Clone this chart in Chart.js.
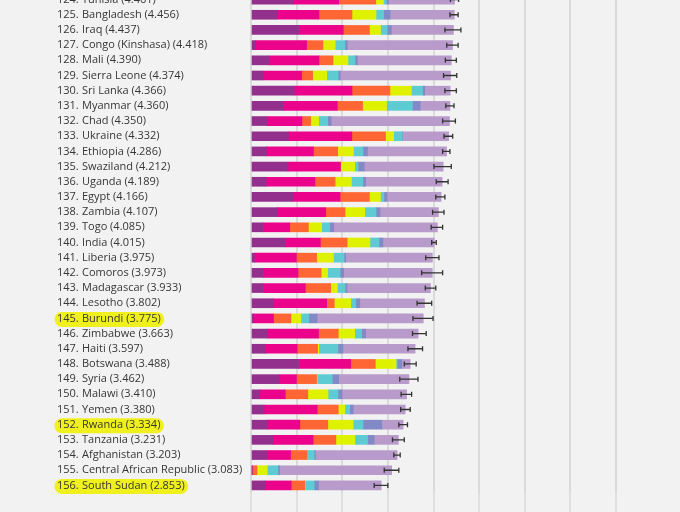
<!DOCTYPE html>
<html>
<head>
<meta charset="utf-8">
<script src="https://cdn.jsdelivr.net/npm/chart.js@4"></script>
<style>
  html, body { margin: 0; padding: 0; background: #f1f2f1; }
  #frame { position: relative; width: 680px; height: 512px; overflow: hidden; }
  #holder { position: absolute; left: 0; top: -8px; width: 680px; height: 520px; }
</style>
</head>
<body>
<div id="frame"><div id="holder"><canvas id="chart"></canvas></div></div>
<script>
const ranks = [124, 125, 126, 127, 128, 129, 130, 131, 132, 133, 134, 135, 136, 137, 138, 139, 140,
  141, 142, 143, 144, 145, 146, 147, 148, 149, 150, 151, 152, 153, 154, 155, 156];
const countries = ["Tunisia", "Bangladesh", "Iraq", "Congo (Kinshasa)", "Mali", "Sierra Leone", "Sri Lanka",
  "Myanmar", "Chad", "Ukraine", "Ethiopia", "Swaziland", "Uganda", "Egypt", "Zambia", "Togo", "India",
  "Liberia", "Comoros", "Madagascar", "Lesotho", "Burundi", "Zimbabwe", "Haiti", "Botswana", "Syria",
  "Malawi", "Yemen", "Rwanda", "Tanzania", "Afghanistan", "Central African Republic", "South Sudan"];
const scores = [4.461, 4.456, 4.437, 4.418, 4.390, 4.374, 4.366, 4.360, 4.350, 4.332, 4.286, 4.212, 4.189,
  4.166, 4.107, 4.085, 4.015, 3.975, 3.973, 3.933, 3.802, 3.775, 3.663, 3.597, 3.488, 3.462, 3.410, 3.380,
  3.334, 3.231, 3.203, 3.083, 2.853];
const highlighted = [145, 152, 156];

// explained components
const gdp = [0.921, 0.562, 1.043, 0.094, 0.385, 0.268, 0.949, 0.710, 0.350, 0.820, 0.336, 0.811, 0.332,
  0.913, 0.578, 0.275, 0.755, 0.073, 0.274, 0.274, 0.489, 0.046, 0.366, 0.323, 1.041, 0.619, 0.191, 0.287,
  0.359, 0.476, 0.350, 0.026, 0.306];
const social = [1.000, 0.928, 0.980, 1.125, 1.105, 0.841, 1.265, 1.181, 0.766, 1.390, 1.033, 1.149, 1.069,
  1.039, 1.058, 0.572, 0.765, 0.922, 0.757, 0.916, 1.169, 0.447, 1.114, 0.688, 1.145, 0.378, 0.560, 1.163,
  0.711, 0.885, 0.517, 0.000, 0.575];
const health = [0.815, 0.723, 0.574, 0.357, 0.308, 0.242, 0.831, 0.555, 0.192, 0.739, 0.532, 0.000, 0.443,
  0.644, 0.426, 0.410, 0.588, 0.443, 0.505, 0.555, 0.168, 0.380, 0.433, 0.449, 0.538, 0.440, 0.495, 0.463,
  0.614, 0.499, 0.361, 0.105, 0.295];
const freedom = [0.167, 0.527, 0.241, 0.269, 0.327, 0.309, 0.470, 0.525, 0.174, 0.178, 0.344, 0.313, 0.356,
  0.241, 0.431, 0.293, 0.498, 0.370, 0.142, 0.148, 0.359, 0.220, 0.361, 0.026, 0.455, 0.013, 0.443, 0.143,
  0.555, 0.417, 0.000, 0.225, 0.010];
const generosity = [0.059, 0.166, 0.148, 0.212, 0.153, 0.252, 0.244, 0.566, 0.198, 0.187, 0.209, 0.074,
  0.252, 0.076, 0.247, 0.177, 0.200, 0.233, 0.275, 0.169, 0.107, 0.176, 0.151, 0.419, 0.025, 0.331, 0.218,
  0.108, 0.217, 0.276, 0.158, 0.235, 0.202];
const corruption = [0.055, 0.143, 0.089, 0.053, 0.052, 0.045, 0.047, 0.172, 0.078, 0.010, 0.100, 0.135,
  0.060, 0.067, 0.087, 0.085, 0.085, 0.033, 0.078, 0.041, 0.093, 0.180, 0.089, 0.110, 0.100, 0.141, 0.089,
  0.077, 0.411, 0.147, 0.025, 0.035, 0.091];
const dystopia = [1.444, 1.407, 1.362, 2.308, 2.060, 2.417, 0.560, 0.651, 2.592, 1.008, 1.732, 1.730, 1.677,
  1.186, 1.280, 2.273, 1.124, 1.901, 1.942, 1.830, 1.417, 2.326, 1.149, 1.582, 0.184, 1.540, 1.414, 1.139,
  0.467, 0.531, 1.792, 2.457, 1.374];

// 95% confidence interval ends
const ciLow = [4.37, 4.36, 4.25, 4.29, 4.26, 4.22, 4.25, 4.27, 4.20, 4.23, 4.20, 4.01, 4.06, 4.05, 3.98, 3.95,
  3.96, 3.83, 3.74, 3.82, 3.64, 3.55, 3.54, 3.44, 3.36, 3.26, 3.29, 3.28, 3.24, 3.10, 3.13, 2.92, 2.70];
const ciHigh = [4.55, 4.54, 4.60, 4.54, 4.50, 4.51, 4.50, 4.45, 4.48, 4.42, 4.36, 4.39, 4.32, 4.25, 4.23, 4.20,
  4.06, 4.12, 4.20, 4.05, 3.96, 3.99, 3.84, 3.76, 3.62, 3.66, 3.52, 3.49, 3.43, 3.36, 3.27, 3.24, 3.00];

const components = [
  { label: "GDP per capita", data: gdp, color: "#93308d" },
  { label: "Social support", data: social, color: "#ec038c" },
  { label: "Healthy life expectancy", data: health, color: "#ff6633" },
  { label: "Freedom", data: freedom, color: "#def200" },
  { label: "Generosity", data: generosity, color: "#5ecad2" },
  { label: "Perceptions of corruption", data: corruption, color: "#8189c6" },
  { label: "Dystopia + residual", data: dystopia, color: "#b99bcb" },
];

const rowLabels = {
  id: "rowLabels",
  afterDatasetsDraw(chart) {
    const { ctx } = chart;
    const xScale = chart.scales.x;
    const yScale = chart.scales.y;
    ctx.save();

    // error bars
    ctx.strokeStyle = "#333333";
    ctx.lineWidth = 1.3;
    ranks.forEach((rank, i) => {
      const py = yScale.getPixelForValue(i);
      const x1 = xScale.getPixelForValue(ciLow[i]);
      const x2 = xScale.getPixelForValue(ciHigh[i]);
      ctx.beginPath();
      ctx.moveTo(x1, py);
      ctx.lineTo(x2, py);
      ctx.moveTo(x1, py - 2.5);
      ctx.lineTo(x1, py + 2.5);
      ctx.moveTo(x2, py - 2.5);
      ctx.lineTo(x2, py + 2.5);
      ctx.stroke();
    });

    // country labels
    ctx.font = "11px 'Open Sans'";
    ctx.textBaseline = "middle";
    ctx.textAlign = "left";
    ranks.forEach((rank, i) => {
      const py = yScale.getPixelForValue(i);
      const text = `${countries[i]} (${scores[i].toFixed(3)})`;
      if (highlighted.includes(rank)) {
        const end = 82 + ctx.measureText(text).width;
        ctx.strokeStyle = "#eff01c";
        ctx.lineCap = "round";
        ctx.lineWidth = 15;
        ctx.beginPath();
        ctx.moveTo(62, py + 1);
        ctx.lineTo(end - 4, py + 1);
        ctx.stroke();
      }
      ctx.fillStyle = "#363636";
      ctx.fillText(`${rank}.`, 57, py);
      ctx.fillText(text, 82, py);
    });
    ctx.restore();
  },
};

new Chart(document.getElementById("chart"), {
  type: "bar",
  data: {
    labels: ranks.map(String),
    datasets: components.map((c) => ({
      label: c.label,
      data: c.data,
      backgroundColor: c.color,
      borderWidth: 0,
      barThickness: 9,
    })),
  },
  options: {
    indexAxis: "y",
    responsive: true,
    maintainAspectRatio: false,
    animation: false,
    layout: { padding: { left: 251, right: 64, top: 0, bottom: 0 } },
    plugins: {
      legend: { display: false },
      tooltip: { enabled: false },
    },
    scales: {
      x: {
        stacked: true,
        min: 0,
        max: 8,
        ticks: { display: false, stepSize: 1 },
        grid: { color: "#d9dbda", lineWidth: 2, tickLength: 19, tickColor: "#dfe1e0" },
        border: { display: false },
      },
      y: {
        stacked: true,
        display: false,
      },
    },
  },
  plugins: [rowLabels],
});
</script>
</body>
</html>
